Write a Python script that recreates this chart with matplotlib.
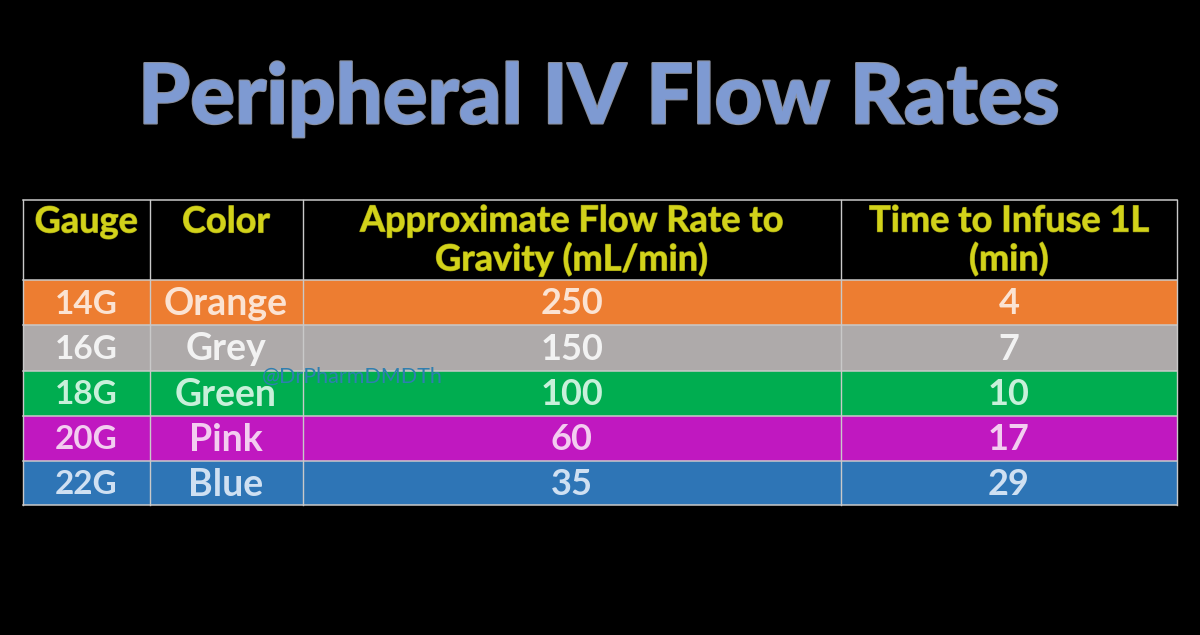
"""
Peripheral IV flow rates table, chalk style on black.
"""
import matplotlib
matplotlib.use("Agg")
import matplotlib.pyplot as plt
import matplotlib.patches as mpatches
import matplotlib.patheffects as pe

BG = "#000000"
TITLE_COL = "#7e9ad2"
HEAD_COL = "#d2d21a"
LINE_COL = "#c9c9c9"

title = "Peripheral IV Flow Rates"
headers = ["Gauge", "Color", "Approximate Flow Rate to\nGravity (mL/min)", "Time to Infuse 1L\n(min)"]
gauges = ["14G", "16G", "18G", "20G", "22G"]
color_names = ["Orange", "Grey", "Green", "Pink", "Blue"]
flow_rates = [250, 150, 100, 60, 35]
infuse_times = [4, 7, 10, 17, 29]
row_colors = ["#ed7d31", "#aeaaaa", "#00ad50", "#c018c0", "#2e75b6"]
text_colors = ["#fbe3d3", "#f2f2f2", "#c8f0da", "#f3cdf0", "#cfe0f2"]

col_edges = [23, 149.5, 302.5, 841, 1177]
row_edges = [200, 280, 325, 370.5, 415.5, 461, 505]
col_sizes = [24, 27, 26, 26]

plt.rcParams["font.family"] = ["Lato", "DejaVu Sans"]

fig = plt.figure(figsize=(12, 6.35), dpi=100, facecolor=BG)
ax = fig.add_axes([0, 0, 1, 1])
ax.set_xlim(0, 1200)
ax.set_ylim(635, 0)
ax.axis("off")

ax.text(599, 99, title, ha="center", va="center", fontsize=60, fontweight="black",
        color=TITLE_COL, path_effects=[pe.withStroke(linewidth=1.5, foreground="#8a8f9c")])

# header row
for i, head in enumerate(headers):
    cx = (col_edges[i] + col_edges[i + 1]) / 2
    ax.text(cx, 240.5 if "\n" in head else 222, head, ha="center", va="center",
            fontsize=26, fontweight="bold", color=HEAD_COL, linespacing=1.15,
            path_effects=[pe.withStroke(linewidth=0.8, foreground="#8f8f10")])

# colored rows
for r in range(len(gauges)):
    y0, y1 = row_edges[r + 1], row_edges[r + 2]
    ax.add_patch(mpatches.Rectangle((col_edges[0], y0), col_edges[-1] - col_edges[0], y1 - y0,
                                    facecolor=row_colors[r], edgecolor="none", zorder=1))
    cells = [gauges[r], color_names[r], flow_rates[r], infuse_times[r]]
    for c, val in enumerate(cells):
        cx = (col_edges[c] + col_edges[c + 1]) / 2
        ax.text(cx, (y0 + y1) / 2 + 1.5, str(val), ha="center", va="center", fontsize=col_sizes[c],
                fontweight="bold", color=text_colors[r], zorder=3)

# grid lines
for x in col_edges:
    ax.plot([x, x], [row_edges[0], row_edges[-1]], color=LINE_COL, lw=1.0, zorder=2)
for y in row_edges:
    ax.plot([col_edges[0], col_edges[-1]], [y, y], color=LINE_COL, lw=1.1, zorder=2)

# watermark
ax.text(262, 377, "@DrPharmDMDTh", ha="left", va="center", fontsize=15.5,
        fontweight="normal", color="#2f7fb0", zorder=4)

fig.savefig("out.png", dpi=100, facecolor=BG)
